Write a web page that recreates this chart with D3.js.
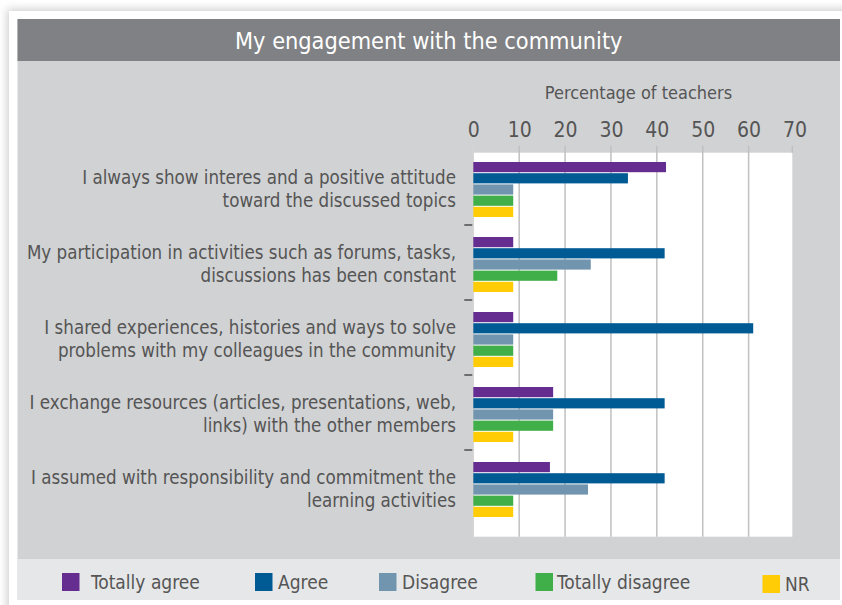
<!DOCTYPE html>
<html>
<head>
<meta charset="utf-8">
<script src="https://cdn.jsdelivr.net/npm/d3@7"></script>
<style>
  html, body { margin: 0; padding: 0; background: #ffffff; }
  svg { display: block; }
  text { font-family: "DejaVu Sans", sans-serif; font-stretch: condensed; }
</style>
</head>
<body>
<svg id="chart" width="842" height="605"></svg>
<script>
// Survey statements (each split over two lines)
const categories = [
  ["I always show interes and a positive attitude", "toward the discussed topics"],
  ["My participation in activities such as forums, tasks,", "discussions has been constant"],
  ["I shared experiences, histories and ways to solve", "problems with my colleagues in the community"],
  ["I exchange resources (articles, presentations, web,", "links) with the other members"],
  ["I assumed with responsibility and commitment the", "learning activities"]
];
const seriesNames = ["Totally agree", "Agree", "Disagree", "Totally disagree", "NR"];
const totallyAgree    = [42.0, 8.7, 8.7, 17.4, 16.7];
const agree           = [33.7, 41.7, 61.0, 41.7, 41.7];
const disagree        = [8.7, 25.6, 8.7, 17.4, 25.0];
const totallyDisagree = [8.7, 18.3, 8.7, 17.4, 8.7];
const noResponse      = [8.7, 8.7, 8.7, 8.7, 8.7];
const xTicks = [0, 10, 20, 30, 40, 50, 60, 70];
const colors = ["#652d90", "#005a94", "#7195ae", "#40ae49", "#ffcc05"];

const seriesValues = [totallyAgree, agree, disagree, totallyDisagree, noResponse];
const catIds = categories.map((c, i) => i);

const svg = d3.select("#chart");

// Card shadow
const defs = svg.append("defs");
defs.append("filter").attr("id", "shadow").attr("x", "-10%").attr("y", "-10%")
  .attr("width", "120%").attr("height", "120%")
  .append("feGaussianBlur").attr("stdDeviation", 4);
svg.append("rect").attr("x", 7).attr("y", 9).attr("width", 850).attr("height", 610)
  .attr("fill", "#cfcfcf").attr("filter", "url(#shadow)");
svg.append("rect").attr("x", 9).attr("y", 11).attr("width", 840).attr("height", 600)
  .attr("fill", "#ffffff");

// Panel
const panel = { left: 17.5, right: 840, top: 19, bottom: 600 };
svg.append("rect").attr("x", panel.left).attr("y", panel.top)
  .attr("width", panel.right - panel.left).attr("height", panel.bottom - panel.top)
  .attr("fill", "#d1d2d4");

// Title band
svg.append("rect").attr("x", panel.left).attr("y", panel.top)
  .attr("width", panel.right - panel.left).attr("height", 42)
  .attr("fill", "#808184");
svg.append("text").attr("x", (panel.left + panel.right) / 2).attr("y", 49)
  .attr("text-anchor", "middle").attr("fill", "#ffffff")
  .attr("font-size", 23.3).text("My engagement with the community");

// Legend band
svg.append("rect").attr("x", panel.left).attr("y", 559)
  .attr("width", panel.right - panel.left).attr("height", 41)
  .attr("fill", "#e6e7e8");

// Plot area
const plot = { left: 473.3, right: 792.3, top: 152.7, bottom: 536.7 };
const x = d3.scaleLinear().domain([0, 70]).range([plot.left, 794.5]);
const y = d3.scaleBand().domain(catIds).range([150, 525]);
const yInner = d3.scaleBand().domain(d3.range(seriesNames.length)).range([0, 55]).paddingInner(0.09);

svg.append("rect").attr("x", plot.left).attr("y", plot.top)
  .attr("width", plot.right - plot.left).attr("height", plot.bottom - plot.top)
  .attr("fill", "#ffffff");

// Vertical grid lines with short ticks above the plot
const grid = svg.append("g");
grid.selectAll("line").data(xTicks.filter(t => t > 0 && t < 70)).join("line")
  .attr("x1", d => x(d)).attr("x2", d => x(d))
  .attr("y1", plot.top - 7).attr("y2", plot.bottom)
  .attr("stroke", "#c0c0c0").attr("stroke-width", 1.5);
svg.append("line").attr("x1", x(0)).attr("x2", x(0))
  .attr("y1", plot.top - 7).attr("y2", plot.bottom)
  .attr("stroke", "#d6d6d6").attr("stroke-width", 1.5);
svg.append("line").attr("x1", plot.right).attr("x2", plot.right)
  .attr("y1", plot.top - 7).attr("y2", plot.top)
  .attr("stroke", "#c0c0c0").attr("stroke-width", 1.5);

// Top axis labels
const xAxis = d3.axisTop(x).tickValues(xTicks).tickSize(0).tickPadding(0);
const axisG = svg.append("g").attr("transform", `translate(0, 137)`).call(xAxis);
axisG.select(".domain").remove();
axisG.selectAll("text").attr("font-size", 21).attr("fill", "#555555")
  .attr("font-family", "DejaVu Sans").attr("dy", 0);
svg.append("text").attr("x", 638.5).attr("y", 98.5).attr("text-anchor", "middle")
  .attr("fill", "#555555").attr("font-size", 18).text("Percentage of teachers");

// Category separators on the left axis
svg.append("g").selectAll("line").data(catIds.slice(1)).join("line")
  .attr("x1", plot.left - 9).attr("x2", plot.left - 1)
  .attr("y1", d => y(d)).attr("y2", d => y(d))
  .attr("stroke", "#6d6e70").attr("stroke-width", 2);

// Category labels
const labels = svg.append("g");
categories.forEach((lines, i) => {
  const cy = y(i) + y.bandwidth() / 2;
  const t = labels.append("text").attr("text-anchor", "end").attr("fill", "#555555")
    .attr("font-size", 18.6);
  t.append("tspan").attr("x", 456).attr("y", cy - 4).text(lines[0]);
  t.append("tspan").attr("x", 456).attr("y", cy + 19).text(lines[1]);
});

// Bars
const bars = svg.append("g");
seriesValues.forEach((vals, s) => {
  bars.append("g").selectAll("rect").data(vals).join("rect")
    .attr("x", x(0))
    .attr("y", (d, i) => y(i) + y.bandwidth() / 2 - 27.5 + 2 + yInner(s))
    .attr("width", d => x(d) - x(0))
    .attr("height", yInner.bandwidth())
    .attr("fill", colors[s]);
});

// Legend
const legendItems = [
  { sx: 62, tx: 91, sy: 573 },
  { sx: 255, tx: 278, sy: 573 },
  { sx: 379, tx: 402, sy: 573 },
  { sx: 535.5, tx: 557, sy: 573 },
  { sx: 762.5, tx: 785, sy: 575 }
];
const legend = svg.append("g");
seriesNames.forEach((name, s) => {
  const it = legendItems[s];
  legend.append("rect").attr("x", it.sx).attr("y", it.sy).attr("width", 17.5).attr("height", 18)
    .attr("fill", colors[s]);
  legend.append("text").attr("x", it.tx).attr("y", it.sy + 16).attr("fill", "#555555")
    .attr("font-size", 19).text(name);
});
</script>
</body>
</html>
